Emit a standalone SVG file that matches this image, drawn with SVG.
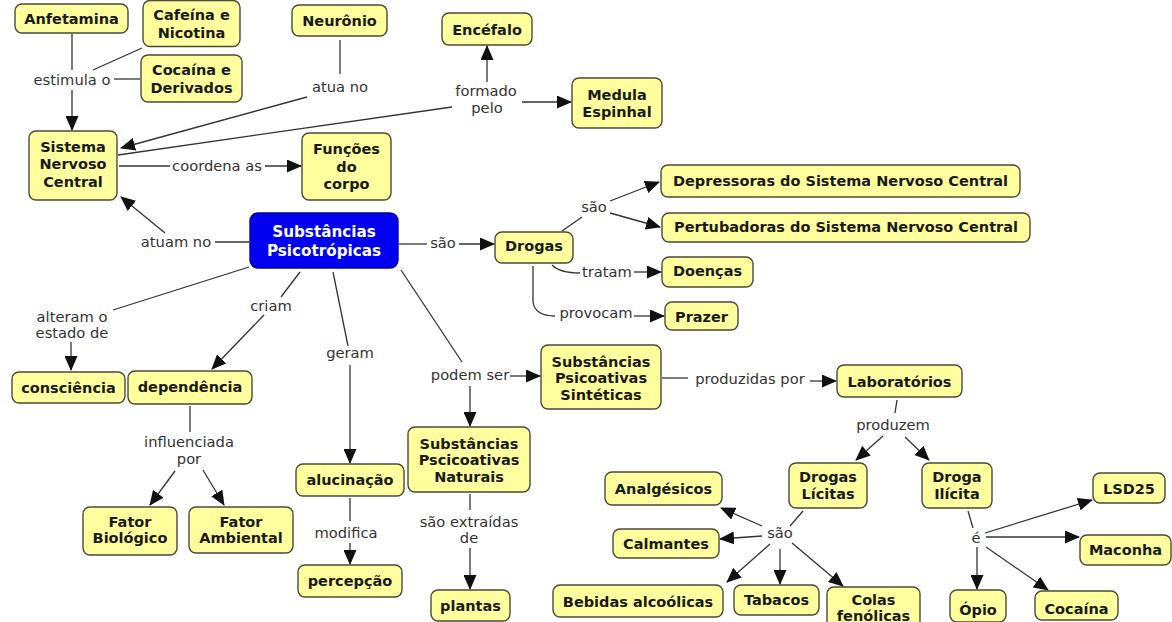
<svg xmlns="http://www.w3.org/2000/svg" width="1172" height="622" viewBox="0 0 1172 622">
<style>
.n rect{fill:#ffff9e;stroke:#4a4a3a;stroke-width:1.4}
.n text{font-family:Verdana,"DejaVu Sans",sans-serif;font-weight:bold;font-size:14.5px;fill:#1a1a1a;text-anchor:middle}
.c text{font-family:Verdana,"DejaVu Sans",sans-serif;font-size:14.7px;fill:#333;text-anchor:middle}
.c line,.c path{stroke:#333;stroke-width:1.3;fill:none}
.a{marker-end:url(#ah)}
#n0 rect{fill:#0000f0;stroke:#0000a0}
#n0 text{fill:#fff;font-size:15.2px}
</style>
<defs>
<marker id="ah" markerUnits="userSpaceOnUse" markerWidth="15" markerHeight="13" refX="14" refY="6.5" orient="auto">
<path d="M0,0 L15,6.5 L0,13 z" fill="#111"/>
</marker>
</defs>
<rect width="1172" height="622" fill="#fff"/>
<g class="c" id="connectors">
<line x1="72" y1="34" x2="72" y2="70"/>
<line class="a" x1="72" y1="90" x2="72" y2="130"/>
<line x1="142" y1="48" x2="93" y2="70"/>
<line x1="140" y1="79" x2="114" y2="79"/>
<text x="72" y="85">estimula o</text>
<line x1="340" y1="40" x2="340" y2="74"/>
<line class="a" x1="307" y1="97" x2="121" y2="148"/>
<text x="340" y="92">atua no</text>
<line x1="118" y1="155" x2="452" y2="107"/>
<line class="a" x1="487" y1="82" x2="487" y2="46"/>
<line class="a" x1="522" y1="102" x2="571" y2="102"/>
<text x="486" y="96">formado</text>
<text x="487" y="113">pelo</text>
<line x1="119" y1="166" x2="170" y2="166"/>
<line class="a" x1="265" y1="166" x2="301" y2="166"/>
<text x="217" y="171">coordena as</text>
<line x1="249" y1="242" x2="215" y2="242"/>
<line class="a" x1="165" y1="233" x2="121" y2="197"/>
<text x="176" y="247">atuam no</text>
<line x1="399" y1="244" x2="427" y2="244"/>
<line class="a" x1="459" y1="244" x2="494" y2="244"/>
<text x="443" y="248">são</text>
<line x1="562" y1="231" x2="582" y2="217"/>
<line class="a" x1="610" y1="201" x2="659" y2="182"/>
<line class="a" x1="610" y1="213" x2="660" y2="227"/>
<text x="594" y="212">são</text>
<path d="M552,265 Q560,273 580,273"/>
<line class="a" x1="634" y1="272" x2="661" y2="272"/>
<text x="607" y="277">tratam</text>
<path d="M533,266 L533,302 Q535,316 555,316"/>
<line class="a" x1="634" y1="316" x2="664" y2="316"/>
<text x="596" y="318">provocam</text>
<line x1="249" y1="267" x2="113" y2="310"/>
<line class="a" x1="71" y1="342" x2="71" y2="370"/>
<text x="72" y="322">alteram o</text>
<text x="72" y="338">estado de</text>
<line x1="300" y1="272" x2="281" y2="297"/>
<line class="a" x1="264" y1="315" x2="212" y2="369"/>
<text x="271" y="311">criam</text>
<line x1="333" y1="272" x2="348" y2="346"/>
<line class="a" x1="350" y1="365" x2="350" y2="463"/>
<text x="350" y="358">geram</text>
<line x1="350" y1="498" x2="350" y2="521"/>
<line class="a" x1="350" y1="543" x2="350" y2="564"/>
<text x="346" y="538">modifica</text>
<line x1="190" y1="406" x2="190" y2="432"/>
<line class="a" x1="175" y1="471" x2="150" y2="505"/>
<line class="a" x1="203" y1="470" x2="224" y2="505"/>
<text x="189" y="447">influenciada</text>
<text x="189" y="464">por</text>
<line x1="401" y1="270" x2="462" y2="362"/>
<line class="a" x1="510" y1="376" x2="540" y2="376"/>
<line class="a" x1="470" y1="386" x2="470" y2="426"/>
<text x="470" y="380">podem ser</text>
<line x1="470" y1="494" x2="470" y2="510"/>
<line class="a" x1="470" y1="548" x2="470" y2="589"/>
<text x="469" y="527">são extraídas</text>
<text x="469" y="543">de</text>
<line x1="662" y1="378" x2="688" y2="378"/>
<line class="a" x1="810" y1="381" x2="836" y2="381"/>
<text x="750" y="384">produzidas por</text>
<line x1="897" y1="400" x2="895" y2="413"/>
<line class="a" x1="883" y1="436" x2="856" y2="460"/>
<line class="a" x1="905" y1="437" x2="929" y2="460"/>
<text x="893" y="430">produzem</text>
<line x1="803" y1="511" x2="790" y2="526"/>
<line class="a" x1="762" y1="526" x2="721" y2="508"/>
<line class="a" x1="762" y1="536" x2="720" y2="539"/>
<line class="a" x1="770" y1="544" x2="727" y2="582"/>
<line class="a" x1="780" y1="549" x2="780" y2="584"/>
<line class="a" x1="792" y1="543" x2="843" y2="586"/>
<text x="780" y="538">são</text>
<line x1="968" y1="511" x2="973" y2="528"/>
<line class="a" x1="985" y1="533" x2="1092" y2="500"/>
<line class="a" x1="986" y1="537" x2="1079" y2="537"/>
<line class="a" x1="977" y1="547" x2="977" y2="589"/>
<line class="a" x1="986" y1="547" x2="1048" y2="590"/>
<text x="976" y="543">é</text>
</g>
<g class="n" id="n1"><rect x="15" y="4" width="113" height="29" rx="7"/><text x="71.5" y="23.5">Anfetamina</text></g>
<g class="n" id="n2"><rect x="143" y="0.5" width="97" height="46" rx="7"/><text x="191.5" y="20">Cafeína e</text><text x="191.5" y="37.5">Nicotina</text></g>
<g class="n" id="n3"><rect x="141" y="55" width="101" height="47" rx="7"/><text x="191.5" y="75">Cocaína e</text><text x="191.5" y="92.5">Derivados</text></g>
<g class="n" id="n4"><rect x="292" y="5" width="95" height="31" rx="7"/><text x="339.5" y="26">Neurônio</text></g>
<g class="n" id="n5"><rect x="29" y="131" width="88" height="69" rx="7"/><text x="73" y="151.7">Sistema</text><text x="73" y="169.2">Nervoso</text><text x="73" y="186.7">Central</text></g>
<g class="n" id="n6"><rect x="302" y="133" width="89" height="67" rx="7"/><text x="346.5" y="154">Funções</text><text x="346.5" y="171.5">do</text><text x="346.5" y="189">corpo</text></g>
<g class="n" id="n7"><rect x="442" y="13" width="90" height="32" rx="7"/><text x="487" y="35">Encéfalo</text></g>
<g class="n" id="n8"><rect x="572" y="78" width="90" height="50" rx="7"/><text x="617" y="100">Medula</text><text x="617" y="117">Espinhal</text></g>
<g class="n" id="n9"><rect x="661" y="165" width="359" height="32" rx="7"/><text x="840.5" y="185.5">Depressoras do Sistema Nervoso Central</text></g>
<g class="n" id="n10"><rect x="662" y="213" width="368" height="29" rx="7"/><text x="846" y="232">Pertubadoras do Sistema Nervoso Central</text></g>
<g class="n" id="n11"><rect x="662" y="257" width="91" height="30" rx="7"/><text x="707.5" y="276">Doenças</text></g>
<g class="n" id="n12"><rect x="665" y="302" width="73" height="28" rx="7"/><text x="701.5" y="321.5">Prazer</text></g>
<g class="n" id="n0"><rect x="250" y="213" width="148" height="55" rx="8"/><text x="324" y="237">Substâncias</text><text x="324" y="255.5">Psicotrópicas</text></g>
<g class="n" id="n13"><rect x="495" y="232" width="78" height="31" rx="7"/><text x="534" y="251">Drogas</text></g>
<g class="n" id="n14"><rect x="12" y="372" width="113" height="31" rx="7"/><text x="68.5" y="393">consciência</text></g>
<g class="n" id="n15"><rect x="128" y="371" width="124" height="33" rx="7"/><text x="190" y="391.5">dependência</text></g>
<g class="n" id="n16"><rect x="296" y="464" width="108" height="32" rx="7"/><text x="350" y="484.5">alucinação</text></g>
<g class="n" id="n17"><rect x="298" y="565" width="104" height="32" rx="7"/><text x="350" y="586">percepção</text></g>
<g class="n" id="n18"><rect x="83" y="507" width="94" height="48" rx="7"/><text x="130" y="526.7">Fator</text><text x="130" y="543.3">Biológico</text></g>
<g class="n" id="n19"><rect x="189" y="507" width="104" height="46" rx="7"/><text x="241" y="526.5">Fator</text><text x="241" y="543">Ambiental</text></g>
<g class="n" id="n20"><rect x="541" y="345" width="120" height="64" rx="7"/><text x="601" y="366.7">Substâncias</text><text x="601" y="383">Psicoativas</text><text x="601" y="399.5">Sintéticas</text></g>
<g class="n" id="n21"><rect x="408" y="427" width="122" height="65" rx="7"/><text x="469" y="448.5">Substâncias</text><text x="469" y="465">Pscicoativas</text><text x="469" y="481.5">Naturais</text></g>
<g class="n" id="n22"><rect x="431" y="590" width="79" height="31" rx="7"/><text x="470.5" y="610.5">plantas</text></g>
<g class="n" id="n23"><rect x="605" y="472" width="117" height="33" rx="7"/><text x="663.5" y="493.5">Analgésicos</text></g>
<g class="n" id="n24"><rect x="613" y="529" width="106" height="29" rx="7"/><text x="666" y="548.5">Calmantes</text></g>
<g class="n" id="n25"><rect x="553" y="585" width="170" height="32" rx="7"/><text x="638" y="607">Bebidas alcoólicas</text></g>
<g class="n" id="n26"><rect x="734" y="585" width="85" height="30" rx="7"/><text x="776.5" y="605">Tabacos</text></g>
<g class="n" id="n27"><rect x="827" y="587" width="93" height="48" rx="7"/><text x="873.5" y="604.5">Colas</text><text x="873.5" y="620.5">fenólicas</text></g>
<g class="n" id="n28"><rect x="837" y="365" width="125" height="32" rx="7"/><text x="899.5" y="387">Laboratórios</text></g>
<g class="n" id="n29"><rect x="789" y="463" width="78" height="45" rx="7"/><text x="828" y="481.7">Drogas</text><text x="828" y="499">Lícitas</text></g>
<g class="n" id="n30"><rect x="922" y="463" width="70" height="45" rx="7"/><text x="957" y="481.7">Droga</text><text x="957" y="499">Ilícita</text></g>
<g class="n" id="n31"><rect x="1093" y="473" width="72" height="30" rx="7"/><text x="1129" y="493.5">LSD25</text></g>
<g class="n" id="n32"><rect x="1080" y="535" width="91" height="30" rx="7"/><text x="1125.5" y="555">Maconha</text></g>
<g class="n" id="n33"><rect x="950" y="590" width="56" height="32" rx="7"/><text x="978" y="615">Ópio</text></g>
<g class="n" id="n34"><rect x="1035" y="591" width="83" height="29" rx="7"/><text x="1076.5" y="613.5">Cocaína</text></g>
</svg>
